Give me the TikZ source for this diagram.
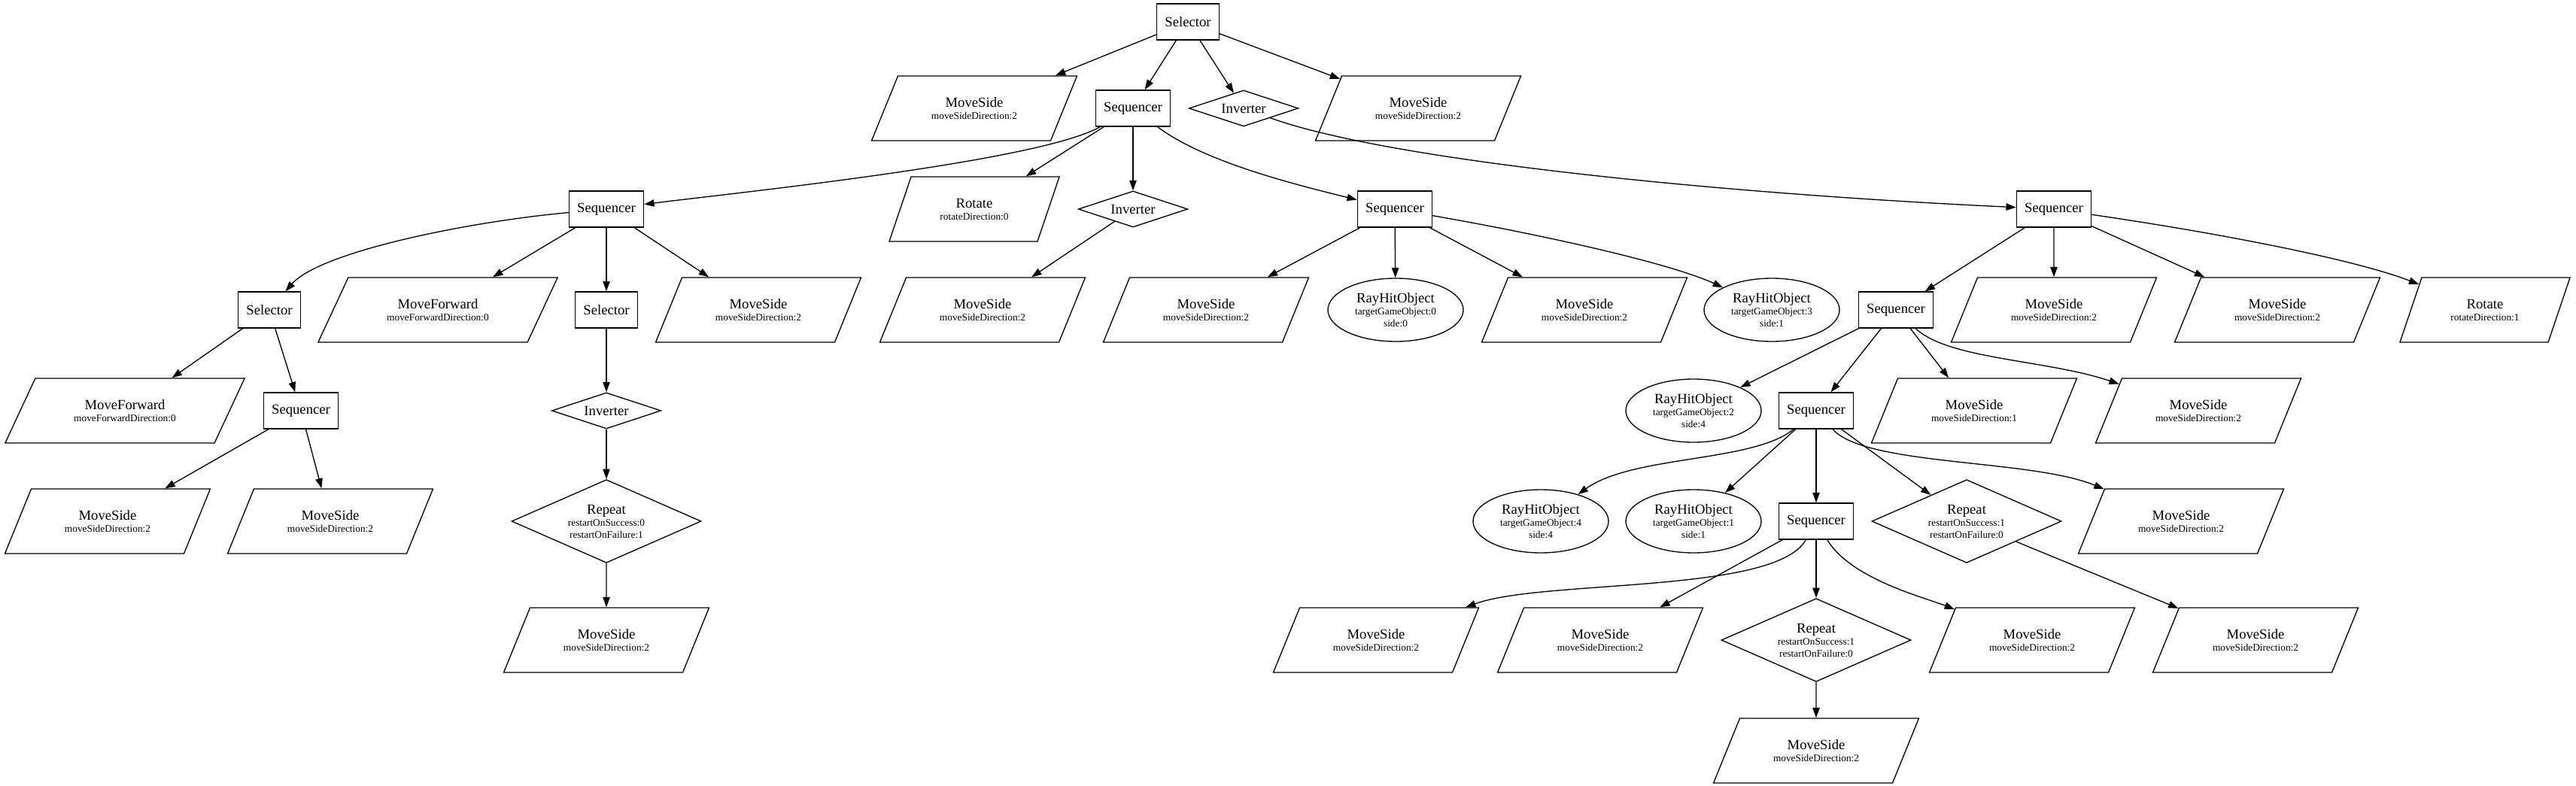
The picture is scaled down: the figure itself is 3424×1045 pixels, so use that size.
\documentclass[tikz,border=0pt]{standalone}
\usepackage{fontspec}
\setmainfont{Liberation Serif}
\usetikzlibrary{shapes.geometric,arrows.meta}

\newcommand{\param}[1]{{\fontsize{10}{11}\selectfont #1}}
\newcommand{\moveside}[1]{MoveSide\\\param{moveSideDirection:#1}}
\newcommand{\rayhit}[2]{RayHitObject\\\param{targetGameObject:#1}\\\param{side:#2}}
\newcommand{\restart}[2]{Repeat\\\param{restartOnSuccess:#1}\\\param{restartOnFailure:#2}}

\begin{document}
\begin{tikzpicture}[x=0.75pt, y=0.75pt,
        every node/.style={font=\fontsize{14}{12}\selectfont, align=center, line width=1pt},
        ctrl/.style={rectangle, draw, minimum width=54pt, minimum height=36pt, inner xsep=8pt, inner ysep=0pt},
        inverter/.style={diamond, draw, shape aspect=3, inner sep=0pt, minimum width=109pt, minimum height=36pt},
        repeatnode/.style={diamond, draw, shape aspect=2.3, inner sep=0pt, minimum width=189pt, minimum height=83pt},
        ray/.style={ellipse, draw, inner sep=0pt, minimum width=135pt, minimum height=63pt},
        act/.style={trapezium, draw, trapezium stretches=true, inner sep=0pt, minimum height=64.5pt},
        movebox/.style={act, minimum width=205pt, trapezium left angle=56, trapezium right angle=124},
        rotbox/.style={act, minimum width=171pt, trapezium left angle=61, trapezium right angle=119},
        fwdbox/.style={act, minimum width=239pt, trapezium left angle=52, trapezium right angle=128},
        link/.style={line width=1pt, -{Triangle[length=10pt, width=7pt]}}]
    \useasboundingbox (0,0) rectangle (3424,-1045);

    % rank 0 and 1
    \node[ctrl] (sel0) at (1579,-29) {Selector};
    \node[movebox] (msA) at (1295,-144) {\moveside{2}};
    \node[ctrl] (seq1) at (1506,-144) {Sequencer};
    \node[inverter] (inv1) at (1653,-144) {Inverter};
    \node[movebox] (msB) at (1885,-144) {\moveside{2}};

    % rank 2
    \node[ctrl] (seq2) at (806,-278) {Sequencer};
    \node[rotbox] (rot1) at (1295,-278) {Rotate\\\param{rotateDirection:0}};
    \node[inverter] (inv2) at (1506,-278) {Inverter};
    \node[ctrl] (seq3) at (1854,-278) {Sequencer};
    \node[ctrl] (seq4) at (2730,-278) {Sequencer};

    % rank 3
    \node[ctrl] (sel2) at (358,-412) {Selector};
    \node[fwdbox] (fwd1) at (582,-412) {MoveForward\\\param{moveForwardDirection:0}};
    \node[ctrl] (sel3) at (806,-412) {Selector};
    \node[movebox] (ms1) at (1008,-412) {\moveside{2}};
    \node[movebox] (ms2) at (1306,-412) {\moveside{2}};
    \node[movebox] (ms3) at (1603,-412) {\moveside{2}};
    \node[ray] (ray0) at (1855,-412) {\rayhit{0}{0}};
    \node[movebox] (ms4) at (2106,-412) {\moveside{2}};
    \node[ray] (ray3) at (2355,-412) {\rayhit{3}{1}};
    \node[ctrl] (seq5) at (2520,-412) {Sequencer};
    \node[movebox] (ms5) at (2730,-412) {\moveside{2}};
    \node[movebox] (ms6) at (3027,-412) {\moveside{2}};
    \node[rotbox] (rot2) at (3303,-412) {Rotate\\\param{rotateDirection:1}};

    % rank 4
    \node[fwdbox] (fwd2) at (166,-546) {MoveForward\\\param{moveForwardDirection:0}};
    \node[ctrl] (seq6) at (400,-546) {Sequencer};
    \node[inverter] (inv3) at (806,-546) {Inverter};
    \node[ray] (ray2) at (2251,-546) {\rayhit{2}{4}};
    \node[ctrl] (seq7) at (2414,-546) {Sequencer};
    \node[movebox] (ms7) at (2624,-546) {\moveside{1}};
    \node[movebox] (ms8) at (2922,-546) {\moveside{2}};

    % rank 5
    \node[movebox] (ms9) at (143,-693) {\moveside{2}};
    \node[movebox] (ms10) at (439,-693) {\moveside{2}};
    \node[repeatnode] (rep1) at (806,-693) {\restart{0}{1}};
    \node[ray] (ray4) at (2048,-693) {\rayhit{4}{4}};
    \node[ray] (ray1) at (2251,-693) {\rayhit{1}{1}};
    \node[ctrl] (seq8) at (2414,-693) {Sequencer};
    \node[repeatnode] (rep2) at (2614,-693) {\restart{1}{0}};
    \node[movebox] (ms11) at (2899,-693) {\moveside{2}};

    % rank 6 and 7
    \node[movebox] (ms12) at (806,-851) {\moveside{2}};
    \node[movebox] (ms13) at (1829,-851) {\moveside{2}};
    \node[movebox] (ms14) at (2127,-851) {\moveside{2}};
    \node[repeatnode] (rep3) at (2414,-851) {\restart{1}{0}};
    \node[movebox] (ms15) at (2701,-851) {\moveside{2}};
    \node[movebox] (ms16) at (2998,-851) {\moveside{2}};
    \node[movebox] (ms17) at (2414,-998) {\moveside{2}};

    % straight connectors
    \path[link] (sel0) edge (msA) edge (seq1) edge (inv1) edge (msB);
    \path[link] (seq1) edge (rot1) edge (inv2);
    \path[link] (seq2) edge (fwd1) edge (sel3) edge (ms1);
    \path[link] (inv2) edge (ms2);
    \path[link] (seq3) edge (ms3) edge (ray0) edge (ms4);
    \path[link] (seq4) edge (seq5) edge (ms5) edge (ms6);
    \path[link] (sel2) edge (fwd2) edge (seq6);
    \path[link] (sel3) edge (inv3);
    \path[link] (seq5) edge (ray2) edge (seq7) edge (ms7);
    \path[link] (seq6) edge (ms9) edge (ms10);
    \path[link] (inv3) edge (rep1);
    \path[link] (seq7) edge (ray1) edge (seq8) edge (rep2);
    \path[link] (rep1) edge (ms12);
    \path[link] (seq8) edge (ms14) edge (rep3);
    \path[link] (rep2) edge (ms16);
    \path[link] (rep3) edge (ms17);

    % curved connectors
    \draw[link] (seq1) .. controls (1380,-215) and (980,-256) .. (seq2);
    \draw[link] (seq1) .. controls (1600,-215) and (1720,-245) .. (seq3);
    \draw[link] (inv1) .. controls (1850,-215) and (2300,-258) .. (seq4);
    \draw[link] (seq2) .. controls (620,-295) and (425,-335) .. (sel2);
    \draw[link] (seq3) .. controls (2050,-312) and (2220,-350) .. (ray3);
    \draw[link] (seq4) .. controls (2950,-310) and (3130,-345) .. (rot2);
    \draw[link] (seq5) .. controls (2590,-478) and (2720,-478) .. (ms8);
    \draw[link] (seq7) .. controls (2330,-615) and (2170,-605) .. (ray4);
    \draw[link] (seq7) .. controls (2480,-620) and (2700,-610) .. (ms11);
    \draw[link] (seq8) .. controls (2360,-790) and (2050,-770) .. (ms13);
    \draw[link] (seq8) .. controls (2460,-770) and (2560,-795) .. (ms15);
\end{tikzpicture}
\end{document}
